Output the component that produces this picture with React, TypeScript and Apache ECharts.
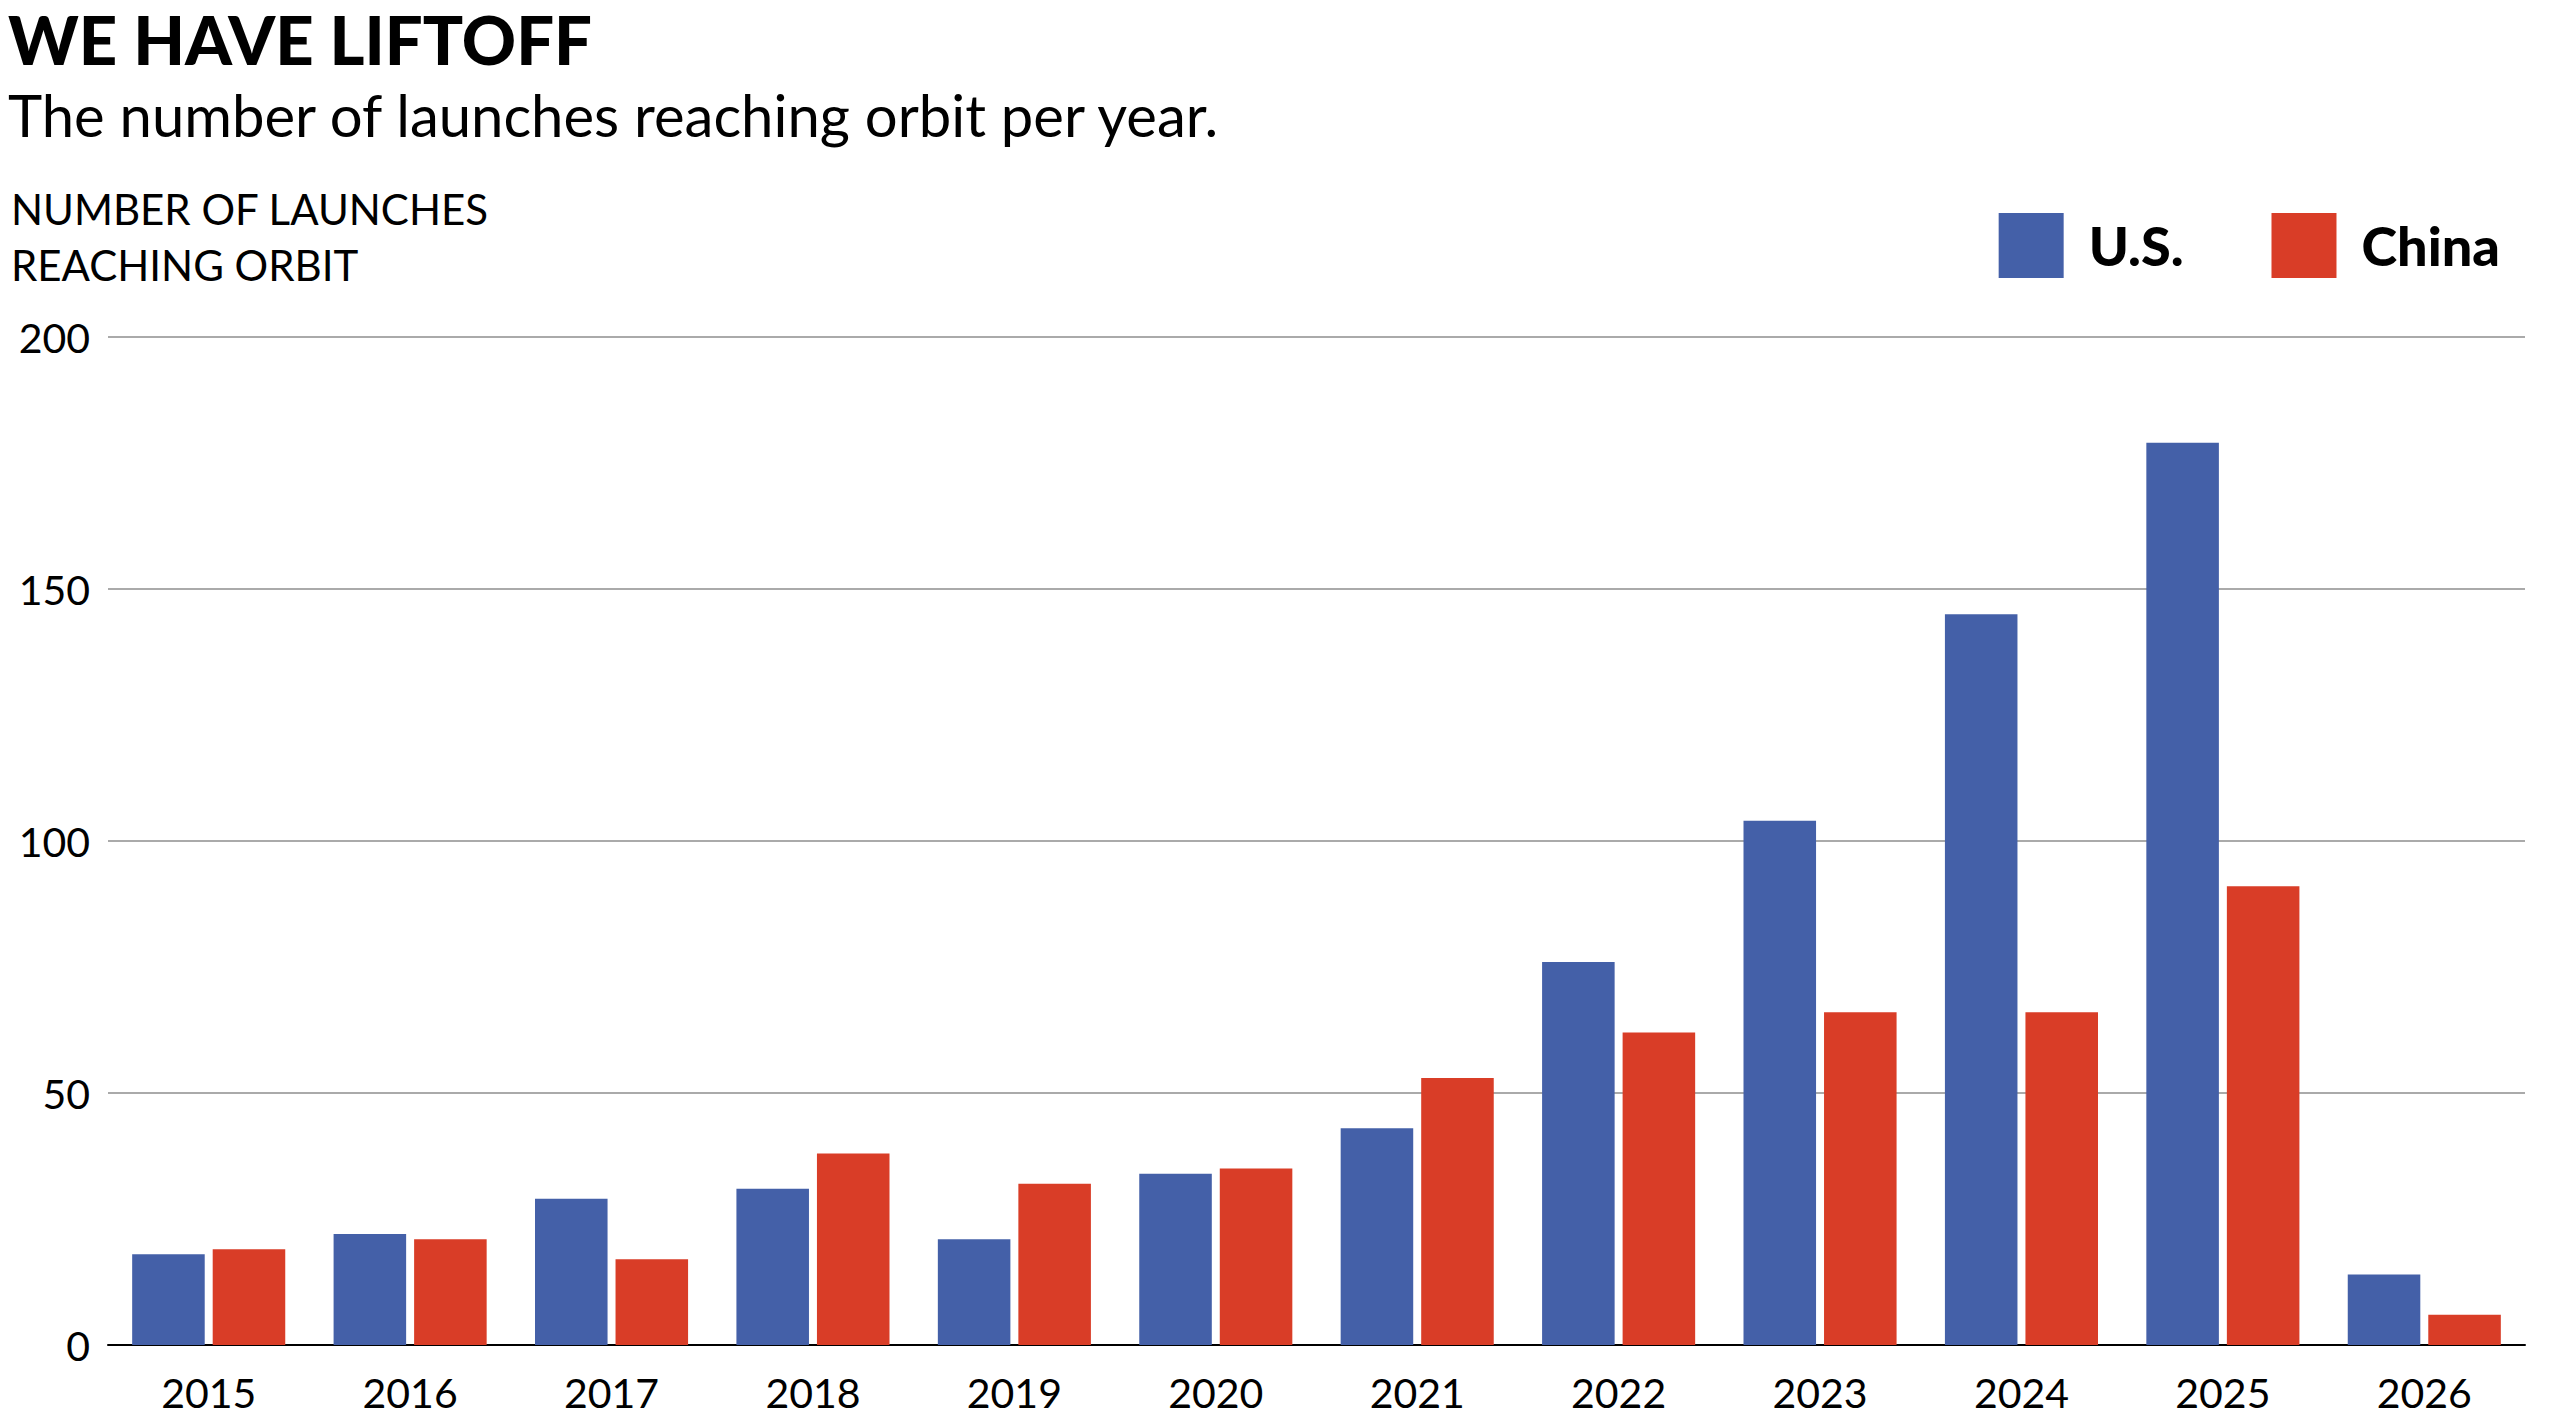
import React, { useEffect, useRef } from "react";
import * as echarts from "echarts";

const years = ["2015", "2016", "2017", "2018", "2019", "2020", "2021", "2022", "2023", "2024", "2025", "2026"];
const usLaunches = [18, 22, 29, 31, 21, 34, 43, 76, 104, 145, 179, 14];
const chinaLaunches = [19, 21, 17, 38, 32, 35, 53, 62, 66, 66, 91, 6];
const seriesNames = ["U.S.", "China"];
const yTicks = { min: 0, max: 200, interval: 50 };

const titleText = "WE HAVE LIFTOFF";
const subtitleText = "The number of launches reaching orbit per year.";
const axisTitleLines = ["NUMBER OF LAUNCHES", "REACHING ORBIT"];

const FONT = "Lato, 'Noto Sans', sans-serif";
const BLUE = "#4460A8";
const RED = "#D93D27";

export default function App() {
  const ref = useRef<HTMLDivElement>(null);
  useEffect(() => {
    if (!ref.current) return;
    const chart = echarts.init(ref.current, undefined, { renderer: "svg" });
    chart.setOption({
      animation: false,
      backgroundColor: "#ffffff",
      textStyle: { fontFamily: FONT },
      graphic: [
        {
          type: "text",
          left: 8,
          top: 5,
          style: { text: titleText, font: `900 67px ${FONT}`, fill: "#000" },
        },
        {
          type: "text",
          left: 8,
          top: 85,
          style: { text: subtitleText, font: `400 58px ${FONT}`, fill: "#000" },
        },
        {
          type: "text",
          left: 11,
          top: 181,
          style: {
            text: axisTitleLines.join("\n"),
            font: `400 42px ${FONT}`,
            lineHeight: 56,
            fill: "#000",
          },
        },
      ],
      legend: {
        right: 55,
        top: 208,
        itemWidth: 65,
        itemHeight: 65,
        itemGap: 88,
        icon: "rect",
        textStyle: {
          fontFamily: FONT,
          fontWeight: 900,
          fontSize: 54,
          color: "#000",
          padding: [0, 0, 0, 20],
        },
        data: seriesNames,
      },
      grid: { left: 108, right: 35, top: 337, bottom: 77, containLabel: false },
      xAxis: {
        type: "category",
        data: years,
        axisLine: { show: true, lineStyle: { color: "#000", width: 2 } },
        axisTick: { show: false },
        axisLabel: { color: "#000", fontSize: 41, margin: 27, fontFamily: FONT },
      },
      yAxis: {
        type: "value",
        min: yTicks.min,
        max: yTicks.max,
        interval: yTicks.interval,
        axisLine: { show: false },
        axisTick: { show: false },
        axisLabel: { color: "#000", fontSize: 41, margin: 18, fontFamily: FONT },
        splitLine: { lineStyle: { color: "#aaaaaa", width: 2 } },
      },
      series: [
        {
          name: seriesNames[0],
          type: "bar",
          data: usLaunches,
          itemStyle: { color: BLUE },
          barGap: "11%",
          barCategoryGap: "24%",
        },
        {
          name: seriesNames[1],
          type: "bar",
          data: chinaLaunches,
          itemStyle: { color: RED },
          barGap: "11%",
          barCategoryGap: "24%",
        },
      ],
    });
    return () => chart.dispose();
  }, []);
  return (
    <div
      ref={ref}
      style={{ position: "absolute", left: 0, top: 0, width: 2560, height: 1422 }}
    />
  );
}
